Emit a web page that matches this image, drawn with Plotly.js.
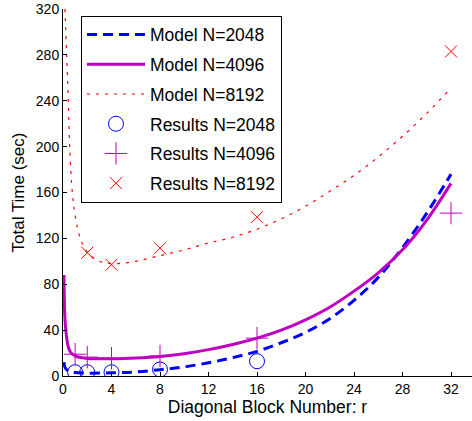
<!DOCTYPE html>
<html>
<head>
<meta charset="utf-8">
<script src="https://cdn.plot.ly/plotly-3.0.1.min.js"></script>
<style>html,body{margin:0;padding:0;background:#fff;}#chart{width:472px;height:421px;}</style>
</head>
<body>
<div id="chart"></div>
<script>
// Model curves
const rModel2048 = [0.08, 0.15, 0.25, 0.5, 1, 2, 4, 6, 8, 10, 12, 14, 16, 18, 20, 22, 24, 26, 28, 30, 32];
const tModel2048 = [12, 8, 6, 4, 3, 2.5, 2.8, 3.5, 5.5, 8, 11.5, 16, 21.5, 29, 38, 50, 66, 86, 112, 142, 176];

const rModel4096 = [0.08, 0.15, 0.25, 0.4, 0.6, 1, 1.5, 2, 3, 4, 5, 6, 8, 10, 12, 14, 16, 18, 20, 22, 24, 26, 28, 30, 32];
const tModel4096 = [88, 52, 38, 27, 21, 17.5, 16, 15.3, 15, 15, 15.2, 15.6, 17, 19.5, 23, 27.5, 33, 40, 49, 60, 74, 90, 110, 136, 168];

const rModel8192 = [0.16, 0.3, 0.44, 0.55, 0.77, 1.0, 1.4, 2, 3, 4, 5, 6, 8, 10, 12, 14, 16, 18, 20, 22, 24, 26, 28, 30, 32];
const tModel8192 = [320, 280, 240, 200, 160, 140, 121, 108, 100, 98, 98.5, 100, 105, 110, 116, 121, 128, 137, 148, 161, 175, 191, 209, 229, 251];

// Measured results
const rRes2048 = [1, 2, 4, 8, 16];
const tRes2048 = [3.3, 3.3, 3.3, 5.7, 12.9];
const rRes4096 = [1, 2, 4, 8, 16, 32];
const tRes4096 = [19, 16.5, 15.5, 17.5, 33, 142];
const rRes8192 = [2, 4, 8, 16, 32];
const tRes8192 = [107.5, 97, 111.5, 138.5, 283];

const names = ['Model N=2048', 'Model N=4096', 'Model N=8192', 'Results N=2048', 'Results N=4096', 'Results N=8192'];
const xTicks = [0, 4, 8, 12, 16, 20, 24, 28, 32];
const yTicks = [0, 40, 80, 120, 160, 200, 240, 280, 320];

const traces = [
  {x: rModel2048, y: tModel2048, name: names[0], mode: 'lines', line: {color: '#0000ff', width: 3, dash: '10px,6px', shape: 'spline'}, legendgroup: 'a'},
  {x: rModel4096, y: tModel4096, name: names[1], mode: 'lines', line: {color: '#bf00bf', width: 3, shape: 'spline'}, legendgroup: 'b'},
  {x: rModel8192, y: tModel8192, name: names[2], mode: 'lines', line: {color: '#ff0000', width: 1.2, dash: '3px,6px', shape: 'spline'}, legendgroup: 'c'},
  {x: rRes2048, y: tRes2048, name: names[3], mode: 'markers', marker: {symbol: 'circle-open', size: 15, color: '#0000ff', line: {width: 1}}, legendgroup: 'd'},
  {x: rRes4096, y: tRes4096, name: names[4], mode: 'markers', marker: {symbol: 'cross-thin-open', size: 16, color: '#bf00bf', line: {width: 1, color: '#bf00bf'}}, legendgroup: 'e'},
  {x: rRes8192, y: tRes8192, name: names[5], mode: 'markers', marker: {symbol: 'x-thin-open', size: 12, color: '#ff0000', line: {width: 1, color: '#ff0000'}}, legendgroup: 'f'}
];

const font = {family: 'Liberation Sans, Arial, sans-serif', color: '#000'};

const layout = {
  width: 472, height: 421,
  margin: {l: 63, r: 0, t: 9, b: 45},
  paper_bgcolor: '#fff', plot_bgcolor: '#fff',
  font: Object.assign({size: 15}, font),
  showlegend: true,
  legend: {x: 0.044, y: 0.982, xanchor: 'left', yanchor: 'top', bordercolor: '#000', borderwidth: 1, bgcolor: '#fff',
           font: Object.assign({size: 17.5}, font), tracegroupgap: 4, itemwidth: 58, entrywidth: 150, entrywidthmode: 'pixels'},
  xaxis: {range: [0, 33.73], tickvals: xTicks, ticktext: xTicks.map(String), ticks: 'inside', ticklen: 4, tickcolor: '#000',
          showgrid: false, zeroline: false, showline: true, linecolor: '#000', linewidth: 1, mirror: false,
          tickfont: Object.assign({size: 14}, font),
          title: {text: 'Diagonal Block Number: r', font: Object.assign({size: 17.5}, font), standoff: 2}},
  yaxis: {range: [0, 320], tickvals: yTicks, ticktext: yTicks.map(String), ticks: 'inside', ticklen: 4, tickcolor: '#000',
          showgrid: false, zeroline: false, showline: true, linecolor: '#000', linewidth: 1, mirror: false,
          tickfont: Object.assign({size: 14}, font),
          title: {text: 'Total Time (sec)', font: Object.assign({size: 17}, font), standoff: 6}}
};

Plotly.newPlot('chart', traces, layout, {displayModeBar: false, staticPlot: true});
</script>
</body>
</html>
